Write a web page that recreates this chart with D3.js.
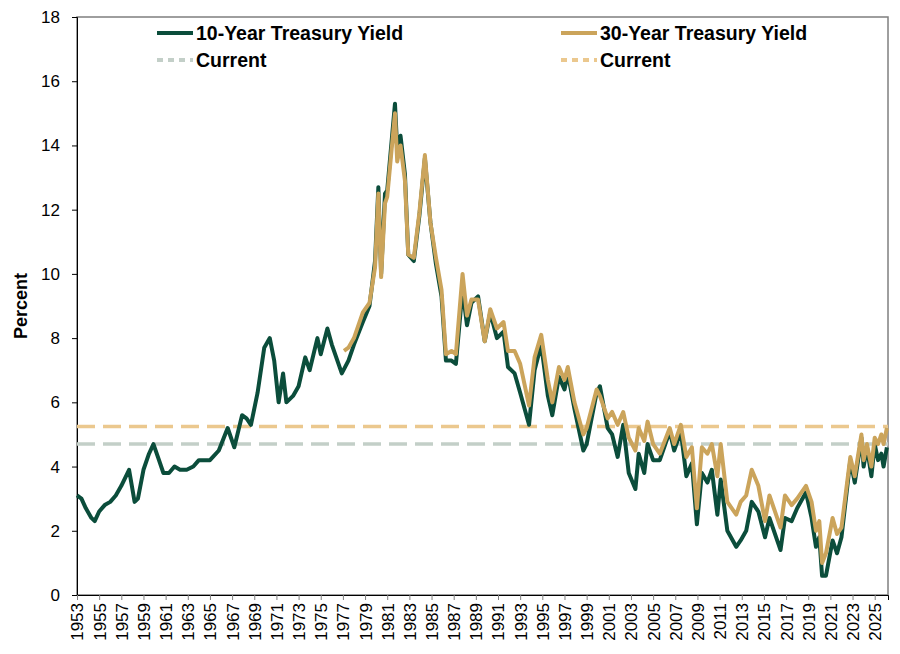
<!DOCTYPE html>
<html lang="en">
<head>
<meta charset="UTF-8">
<title>Treasury Yields</title>
<script src="https://d3js.org/d3.v7.min.js"></script>
<style>
  body { margin: 0; font-family: Arial, "Liberation Sans", sans-serif; background: #fff; }
  .tick text { font-family: Arial, "Liberation Sans", sans-serif; font-size: 17px; fill: #000; }
  .legend text { font-family: Arial, "Liberation Sans", sans-serif; font-size: 19.5px; font-weight: bold; }
</style>
</head>
<body>
<svg id="chart" width="900" height="654"></svg>
<script>
// 10-year yield (decimal year, percent)
const tenYear = [
  [1953.0,3.1],[1953.4,3.0],[1953.8,2.7],[1954.3,2.4],[1954.6,2.3],[1955.0,2.6],[1955.5,2.8],[1956.0,2.9],
  [1956.5,3.1],[1957.0,3.4],[1957.7,3.9],[1958.2,2.9],[1958.5,3.0],[1959.0,3.9],[1959.5,4.4],[1959.9,4.7],
  [1960.3,4.3],[1960.8,3.8],[1961.3,3.8],[1961.8,4.0],[1962.3,3.9],[1962.9,3.9],[1963.5,4.0],[1964.0,4.2],
  [1965.0,4.2],[1965.8,4.5],[1966.6,5.2],[1967.2,4.6],[1967.9,5.6],[1968.3,5.5],[1968.7,5.3],[1969.3,6.3],
  [1969.9,7.7],[1970.4,8.0],[1970.8,7.3],[1971.2,6.0],[1971.6,6.9],[1971.9,6.0],[1972.5,6.2],[1973.0,6.5],
  [1973.6,7.4],[1974.0,7.0],[1974.7,8.0],[1975.0,7.5],[1975.6,8.3],[1976.0,7.8],[1976.9,6.9],[1977.5,7.3],
  [1978.0,7.8],[1978.8,8.5],[1979.4,9.0],[1979.9,10.4],[1980.2,12.7],[1980.45,10.0],[1980.8,12.5],[1981.0,12.6],
  [1981.7,15.3],[1981.9,13.9],[1982.2,14.3],[1982.6,13.1],[1982.9,10.6],[1983.4,10.4],[1983.9,11.8],[1984.4,13.6],
  [1984.9,11.6],[1985.4,10.3],[1985.9,9.3],[1986.3,7.3],[1986.8,7.3],[1987.2,7.2],[1987.8,9.5],[1988.2,8.4],
  [1988.6,9.1],[1989.2,9.3],[1989.8,7.9],[1990.3,8.8],[1990.9,8.0],[1991.5,8.2],[1991.9,7.1],[1992.5,6.9],
  [1993.0,6.3],[1993.8,5.3],[1994.3,7.0],[1994.9,7.8],[1995.5,6.2],[1995.9,5.6],[1996.5,6.8],[1997.0,6.4],
  [1997.3,6.9],[1997.9,5.8],[1998.7,4.5],[1999.0,4.7],[1999.9,6.3],[2000.2,6.5],[2000.9,5.2],[2001.3,5.0],
  [2001.8,4.3],[2002.3,5.3],[2002.8,3.8],[2003.4,3.3],[2003.7,4.4],[2004.2,3.8],[2004.5,4.7],[2005.0,4.2],
  [2005.6,4.2],[2006.5,5.1],[2006.9,4.5],[2007.5,5.1],[2008.0,3.7],[2008.5,4.1],[2008.95,2.2],[2009.4,3.8],
  [2009.9,3.5],[2010.3,3.9],[2010.8,2.5],[2011.1,3.6],[2011.7,2.0],[2012.5,1.5],[2012.9,1.7],[2013.4,2.0],
  [2013.9,2.9],[2014.5,2.6],[2015.1,1.8],[2015.5,2.4],[2016.5,1.4],[2016.9,2.4],[2017.5,2.3],[2018.0,2.7],
  [2018.8,3.2],[2019.3,2.4],[2019.7,1.5],[2020.0,1.8],[2020.25,0.6],[2020.6,0.6],[2021.2,1.7],[2021.6,1.3],
  [2022.0,1.8],[2022.4,3.0],[2022.8,4.2],[2023.2,3.5],[2023.8,4.9],[2024.0,4.0],[2024.3,4.6],[2024.7,3.7],
  [2025.0,4.7],[2025.3,4.2],[2025.6,4.4],[2025.8,4.0],[2026.1,4.6]
];
// 30-year yield
const thirtyYear = [
  [1977.1,7.6],[1977.5,7.7],[1978.0,8.0],[1978.8,8.8],[1979.4,9.1],[1979.9,10.2],[1980.2,12.5],[1980.45,9.9],
  [1980.8,12.2],[1981.0,12.4],[1981.7,15.0],[1981.9,13.5],[1982.2,14.0],[1982.6,12.9],[1982.9,10.6],[1983.4,10.5],
  [1983.9,11.9],[1984.4,13.7],[1984.9,11.6],[1985.4,10.5],[1985.9,9.5],[1986.3,7.5],[1986.8,7.6],[1987.2,7.5],
  [1987.8,10.0],[1988.2,8.7],[1988.6,9.2],[1989.2,9.2],[1989.8,7.9],[1990.3,8.9],[1990.9,8.3],[1991.5,8.5],
  [1991.9,7.6],[1992.5,7.6],[1993.0,7.2],[1993.8,5.9],[1994.3,7.4],[1994.9,8.1],[1995.5,6.7],[1995.9,6.0],
  [1996.5,7.1],[1997.0,6.7],[1997.3,7.1],[1997.9,6.0],[1998.7,5.0],[1999.0,5.2],[1999.9,6.4],[2000.2,6.2],
  [2000.9,5.5],[2001.3,5.7],[2001.8,5.3],[2002.3,5.7],[2002.8,4.9],[2003.4,4.5],[2003.7,5.2],[2004.2,4.8],
  [2004.5,5.4],[2005.0,4.7],[2005.6,4.4],[2006.5,5.2],[2006.9,4.7],[2007.5,5.3],[2008.0,4.3],[2008.5,4.6],
  [2008.95,2.7],[2009.4,4.6],[2009.9,4.4],[2010.3,4.7],[2010.8,3.7],[2011.1,4.7],[2011.7,2.9],[2012.5,2.5],
  [2012.9,2.9],[2013.4,3.1],[2013.9,3.9],[2014.5,3.4],[2015.1,2.3],[2015.5,3.1],[2016.5,2.1],[2016.9,3.1],
  [2017.5,2.8],[2018.0,3.0],[2018.8,3.4],[2019.3,2.9],[2019.7,2.0],[2020.0,2.3],[2020.25,1.0],[2020.6,1.3],
  [2021.2,2.4],[2021.6,1.9],[2022.0,2.1],[2022.4,3.2],[2022.8,4.3],[2023.2,3.7],[2023.8,5.0],[2024.0,4.2],
  [2024.3,4.7],[2024.7,4.0],[2025.0,4.9],[2025.3,4.7],[2025.6,5.0],[2025.8,4.7],[2026.1,5.2]
];
const current10 = 4.7;
const current30 = 5.25;
const xTicks = d3.range(1953, 2026, 2);
const yTicks = d3.range(0, 19, 2);

const margin = { top: 17, right: 12, bottom: 59, left: 77 };
const width = 900 - margin.left - margin.right;
const height = 654 - margin.top - margin.bottom;

const svg = d3.select("#chart").append("g")
  .attr("transform", `translate(${margin.left},${margin.top})`);

const x = d3.scaleLinear().domain([1953, 2026.2]).range([0, width]);
const y = d3.scaleLinear().domain([0, 18]).range([height, 0]);

// frame
svg.append("rect").attr("width", width).attr("height", height)
  .attr("fill", "none").attr("stroke", "#7f7f7f").attr("stroke-width", 1.5);

// y axis
const yAxis = svg.append("g").call(d3.axisLeft(y).tickValues(yTicks).tickSize(5).tickPadding(12));
yAxis.select(".domain").attr("stroke", "#000");
yAxis.selectAll(".tick line").attr("stroke", "#000");

// x axis
const xAxis = svg.append("g").attr("transform", `translate(0,${height})`)
  .call(d3.axisBottom(x).tickValues(xTicks).tickFormat(d3.format("d")).tickSize(5));
xAxis.select(".domain").attr("stroke", "#000");
xAxis.selectAll(".tick line").attr("stroke", "#7f7f7f");
xAxis.selectAll(".tick text")
  .attr("transform", "rotate(-90)")
  .attr("text-anchor", "end")
  .attr("x", -8).attr("y", 0).attr("dy", "0.35em");

// y label
svg.append("text")
  .attr("transform", `translate(${-50},${height / 2}) rotate(-90)`)
  .attr("text-anchor", "middle")
  .style("font-size", "18px").style("font-weight", "bold")
  .text("Percent");

const line = d3.line().x(d => x(d[0])).y(d => y(d[1]));

// current levels
svg.append("line").attr("x1", 0).attr("x2", width)
  .attr("y1", y(current30)).attr("y2", y(current30))
  .attr("stroke", "#ebc88e").attr("stroke-width", 3.5).attr("stroke-dasharray", "18,8");
svg.append("line").attr("x1", 0).attr("x2", width)
  .attr("y1", y(current10)).attr("y2", y(current10))
  .attr("stroke", "#c3cfc8").attr("stroke-width", 3.5).attr("stroke-dasharray", "18,8");

svg.append("path").datum(tenYear).attr("d", line)
  .attr("fill", "none").attr("stroke", "#0b4d3b").attr("stroke-width", 4).attr("stroke-linejoin", "round");
svg.append("path").datum(thirtyYear).attr("d", line)
  .attr("fill", "none").attr("stroke", "#cba45b").attr("stroke-width", 4).attr("stroke-linejoin", "round");

// legend
const legendItems = [
  { label: "10-Year Treasury Yield", color: "#0b4d3b", dash: null, lx: 80, ly: 16 },
  { label: "Current", color: "#c3cfc8", dash: "6,5", lx: 80, ly: 43 },
  { label: "30-Year Treasury Yield", color: "#cba45b", dash: null, lx: 484, ly: 16 },
  { label: "Current", color: "#ebc88e", dash: "6,5", lx: 484, ly: 43 }
];
const legend = svg.append("g").attr("class", "legend");
legendItems.forEach(it => {
  legend.append("line").attr("x1", it.lx).attr("x2", it.lx + 36)
    .attr("y1", it.ly).attr("y2", it.ly)
    .attr("stroke", it.color).attr("stroke-width", 4)
    .attr("stroke-dasharray", it.dash);
  legend.append("text").attr("x", it.lx + 39).attr("y", it.ly).attr("dy", "0.35em")
    .text(it.label);
});
</script>
</body>
</html>
